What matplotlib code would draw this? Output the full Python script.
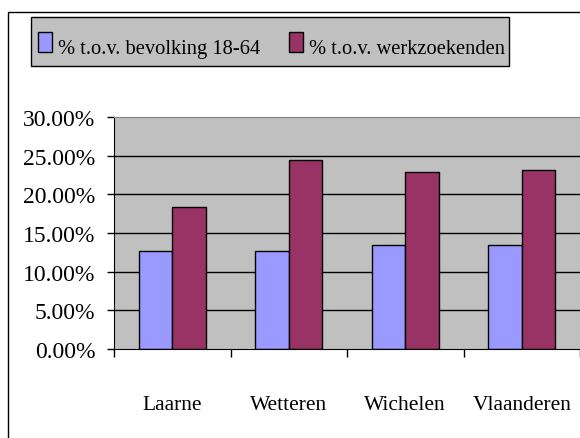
import matplotlib
matplotlib.use("Agg")
import matplotlib.pyplot as plt
import numpy as np
from matplotlib.patches import Rectangle

categories = ["Laarne", "Wetteren", "Wichelen", "Vlaanderen"]
series_names = ["% t.o.v. bevolking 18-64", "% t.o.v. werkzoekenden"]
bevolking = [12.7, 12.7, 13.4, 13.4]
werkzoekenden = [18.3, 24.4, 22.9, 23.1]
yticks = [0, 5, 10, 15, 20, 25, 30]
ytick_labels = ["0.00%", "5.00%", "10.00%", "15.00%", "20.00%", "25.00%", "30.00%"]

colors = ["#9999FF", "#993366"]
plt.rcParams['font.family'] = ['Liberation Serif', 'DejaVu Serif']

W, H = 580, 439
fig = plt.figure(figsize=(W/100, H/100), dpi=100)
fig.patch.set_facecolor("white")

def px(xp, yp):
    """pixel (from top-left) -> figure fraction"""
    return xp / W, 1 - yp / H

# chart area border (left & top visible)
fig.add_artist(Rectangle((8/W, -0.1), 1.2, 1 - 13/H + 0.1, transform=fig.transFigure,
                         fill=False, edgecolor="black", linewidth=1.0))

ax = fig.add_axes([114/W, 1 - 350/H, 1 - 114/W, (350 - 118)/H])
ax.set_facecolor("#C0C0C0")

x = np.arange(len(categories))
w = 1 / 3.5
ax.bar(x - w/2, bevolking, width=w, color=colors[0], edgecolor="black", linewidth=1.0, zorder=3)
ax.bar(x + w/2, werkzoekenden, width=w, color=colors[1], edgecolor="black", linewidth=1.0, zorder=3)

ax.set_xlim(-0.5, len(categories) - 0.5)
ax.set_ylim(0, 30)
ax.set_yticks(yticks)
ax.set_yticklabels(ytick_labels, fontsize=17)
for yv in yticks[1:-1]:
    ax.axhline(yv, color="black", linewidth=1.0, zorder=1)

ax.set_xticks(x)
ax.set_xticklabels(categories, fontsize=15.5)
ax.set_xticks(np.arange(len(categories) + 1) - 0.5, minor=True)
ax.tick_params(axis="x", which="major", length=0, pad=33)
ax.tick_params(axis="x", which="minor", length=6, width=1, color="black", direction="out")
ax.tick_params(axis="y", length=5, width=1, color="black", direction="out", pad=8.5)

ax.spines["right"].set_visible(False)
ax.spines["top"].set_color("#808080")
ax.spines["left"].set_color("black")
ax.spines["bottom"].set_color("black")
ax.spines["bottom"].set_zorder(4)

# legend (manually laid out, Excel style)
lx0, ly0, lx1, ly1 = 31, 18, 509, 67
fig.add_artist(Rectangle(px(lx0, ly1), (lx1 - lx0)/W, (ly1 - ly0)/H, transform=fig.transFigure,
                         facecolor="#C0C0C0", edgecolor="black", linewidth=1.0))
entry_x = [38, 289]
for ex, name, col in zip(entry_x, series_names, colors):
    fig.add_artist(Rectangle(px(ex, 53), 14/W, 20/H, transform=fig.transFigure,
                             facecolor=col, edgecolor="black", linewidth=1.0))
    fig.text(*px(ex + 20, 54), name, fontsize=14.8, ha="left", va="baseline")

fig.savefig("out.png", dpi=100)
